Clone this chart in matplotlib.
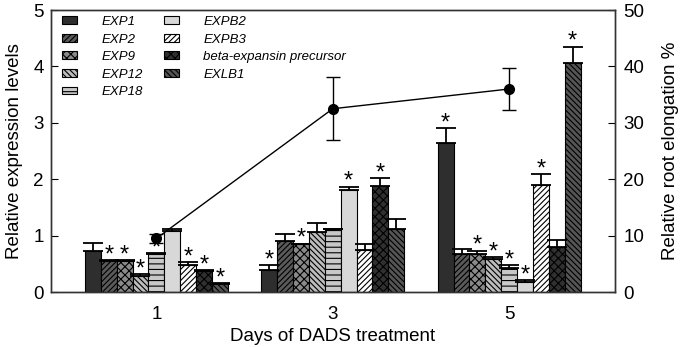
import matplotlib
matplotlib.use("Agg")
import matplotlib.pyplot as plt
from matplotlib.patches import Patch
import numpy as np

plt.rcParams['font.family'] = ['Liberation Sans', 'DejaVu Sans']
plt.rcParams['hatch.linewidth'] = 0.8

days = ["1", "3", "5"]
genes = ["EXP1", "EXP2", "EXP9", "EXP12", "EXP18", "EXPB2", "EXPB3",
         "beta-expansin precursor", "EXLB1"]

# expression values per gene for days 1, 3, 5
EXP1 = [0.72, 0.39, 2.65]
EXP2 = [0.55, 0.90, 0.67]
EXP9 = [0.55, 0.85, 0.67]
EXP12 = [0.29, 1.06, 0.58]
EXP18 = [0.67, 1.11, 0.42]
EXPB2 = [1.09, 1.81, 0.18]
EXPB3 = [0.47, 0.74, 1.90]
BETA = [0.37, 1.88, 0.80]
EXLB1 = [0.15, 1.11, 4.07]

EXP1_err = [0.15, 0.09, 0.26]
EXP2_err = [0.01, 0.12, 0.09]
EXP9_err = [0.01, 0.01, 0.06]
EXP12_err = [0.03, 0.16, 0.04]
EXP18_err = [0.02, 0.01, 0.05]
EXPB2_err = [0.03, 0.06, 0.03]
EXPB3_err = [0.06, 0.11, 0.19]
BETA_err = [0.02, 0.14, 0.12]
EXLB1_err = [0.01, 0.18, 0.28]

# significance flags
EXP1_sig = [0, 1, 1]
EXP2_sig = [1, 0, 0]
EXP9_sig = [1, 1, 1]
EXP12_sig = [1, 0, 1]
EXP18_sig = [1, 0, 1]
EXPB2_sig = [0, 1, 1]
EXPB3_sig = [1, 0, 1]
BETA_sig = [1, 1, 0]
EXLB1_sig = [1, 0, 1]

# root elongation (%)
root_elong = [9.5, 32.5, 36.0]
root_err = [0.8, 5.6, 3.8]

values = [EXP1, EXP2, EXP9, EXP12, EXP18, EXPB2, EXPB3, BETA, EXLB1]
errors = [EXP1_err, EXP2_err, EXP9_err, EXP12_err, EXP18_err, EXPB2_err,
          EXPB3_err, BETA_err, EXLB1_err]
sigs = [EXP1_sig, EXP2_sig, EXP9_sig, EXP12_sig, EXP18_sig, EXPB2_sig,
        EXPB3_sig, BETA_sig, EXLB1_sig]

styles = [
    dict(fc='#2e2e2e', hatch=None),
    dict(fc='#5a5a5a', hatch='//////'),
    dict(fc='#8a8a8a', hatch='xxxx'),
    dict(fc='#bdbdbd', hatch='\\\\\\\\\\\\'),
    dict(fc='#c8c8c8', hatch='---'),
    dict(fc='#d8d8d8', hatch=None),
    dict(fc='white', hatch='//////'),
    dict(fc='#303030', hatch='xxxx'),
    dict(fc='#555555', hatch='\\\\\\\\\\\\'),
]

fig = plt.figure(figsize=(6.8, 3.47), dpi=100)
ax = fig.add_axes([0.0743, 0.1585, 0.9044 - 0.0743, 0.971 - 0.1585])

x = np.arange(len(days))
w = 0.09
n = len(genes)
for i in range(n):
    pos = x + (i - (n - 1) / 2) * w
    st = styles[i]
    ax.bar(pos, values[i], width=w, facecolor=st['fc'], edgecolor='black',
           hatch=st['hatch'], linewidth=0.8, zorder=2)
    ax.errorbar(pos, values[i], yerr=[np.zeros(3), errors[i]], fmt='none',
                ecolor='black', elinewidth=1.3, capsize=7, capthick=1.3, zorder=3)
    for j in range(3):
        if sigs[i][j]:
            ax.text(pos[j], values[i][j] + errors[i][j] - 0.02, '*',
                    ha='center', va='baseline', fontsize=17, zorder=4)

ax.set_xlim(-0.6, 2.6)
ax.set_ylim(0, 5)
ax.set_xticks(x)
ax.set_xticklabels(days)
ax.set_yticks(np.arange(0, 6, 1))
ax.tick_params(axis='y', direction='in', length=5, labelsize=13.5, pad=5)
ax.tick_params(axis='x', direction='in', length=0, labelsize=13.5, pad=10)
ax.set_xlabel('Days of DADS treatment', fontsize=13.5, labelpad=4)
ax.set_ylabel('Relative expression levels', fontsize=13.5, labelpad=7)
for s in ax.spines.values():
    s.set_color('#333333')
    s.set_linewidth(1.0)

ax2 = ax.twinx()
ax2.errorbar(x, root_elong, yerr=root_err, fmt='-o', color='black',
             markersize=7, linewidth=1.0, elinewidth=1.0, capsize=5,
             capthick=1.0)
ax2.set_ylim(0, 50)
ax2.set_yticks(np.arange(0, 60, 10))
ax2.tick_params(axis='y', direction='in', length=5, labelsize=13.5, pad=6)
ax2.set_ylabel('Relative root elongation %', fontsize=13.5, labelpad=13)
for s in ax2.spines.values():
    s.set_color('#333333')
    s.set_linewidth(1.0)

handles = [Patch(facecolor=st['fc'], edgecolor='black', hatch=st['hatch'],
                 linewidth=0.8) for st in styles]
leg = ax.legend(handles, genes, loc='upper left', ncol=2, frameon=False,
                prop={'style': 'italic', 'size': 9.5},
                handlelength=1.2, handleheight=0.55, handletextpad=1.8,
                columnspacing=1.6, labelspacing=0.42,
                bbox_to_anchor=(0.009, 1.0), borderaxespad=0.05)

fig.savefig('out.png', dpi=100)
